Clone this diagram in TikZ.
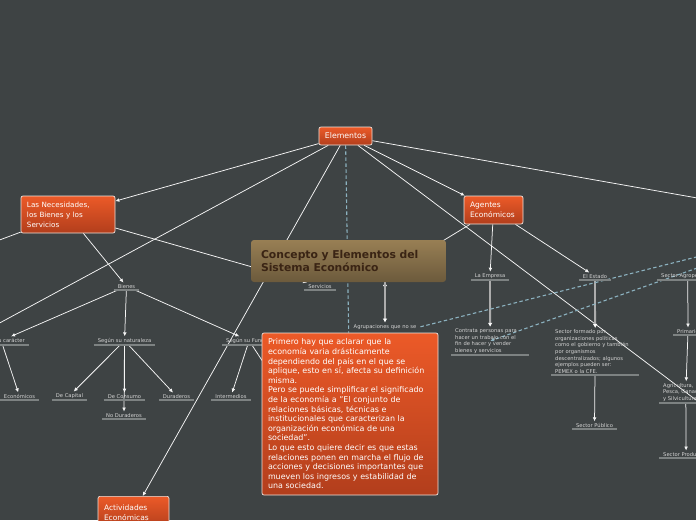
\documentclass[tikz,border=0pt]{standalone}
\usepackage{fontspec}
\setmainfont{DejaVu Sans}
\usetikzlibrary{arrows.meta,backgrounds}
\definecolor{bgcol}{RGB}{62,67,68}
\definecolor{orgtop}{RGB}{236,90,40}
\definecolor{orgbot}{RGB}{178,62,28}
\definecolor{orgline}{RGB}{238,226,220}
\definecolor{brntop}{RGB}{152,127,84}
\definecolor{brnbot}{RGB}{108,90,60}
\definecolor{brntext}{RGB}{58,36,20}
\definecolor{lbltext}{RGB}{212,212,212}
\definecolor{ulcol}{RGB}{125,130,130}
\definecolor{dashcol}{RGB}{140,178,192}
\definecolor{grayarr}{RGB}{172,172,172}
\begin{document}
\begin{tikzpicture}[x=1pt,y=-1pt,
  main node/.style={rectangle,rounded corners=2pt,draw=orgline,line width=.7pt,top color=orgtop,bottom color=orgbot,text=white,align=left,inner xsep=6pt,inner ysep=3pt},
  title node/.style={rectangle,rounded corners=3pt,top color=brntop,bottom color=brnbot,text=brntext,align=left,inner xsep=10pt,text width=175pt,minimum height=42pt,font=\fontsize{10.8}{13.5}\selectfont\bfseries},
  sub node/.style={text=lbltext,font=\fontsize{5.2}{6.6}\selectfont,align=left,inner xsep=4pt,inner ysep=1.5pt,anchor=south},
  uline/.style={ulcol,line width=1.1pt},
  arr/.style={white!92!gray,line width=.75pt,-{Latex[length=4pt,width=3.8pt]}},
  thick arr/.style={grayarr,line width=1.8pt,-{Latex[length=4pt,width=4.6pt,color=white]}},
  dash line/.style={dashcol,line width=1.1pt,dash pattern=on 3.5pt off 2.5pt}]
\useasboundingbox (0,0) rectangle (696,520);
\begin{scope}[on background layer]
\fill[bgcol] (0,0) rectangle (696,520);
\end{scope}
%leaves
\node[sub node] (bienes) at (126.5,290) {Bienes};
\node[sub node] (serv) at (320,290) {Servicios};
\node[sub node,anchor=south east] (carac) at (29,345) {Según su carácter};
\node[sub node] (natur) at (124.5,345) {Según su naturaleza};
\node[sub node,anchor=south west] (funcion) at (222,345) {Según su Función};
\node[sub node] (econ) at (19.5,400) {Económicos};
\node[sub node] (capital) at (69.5,400) {De Capital};
\node[sub node] (consumo) at (124.5,400) {De Consumo};
\node[sub node] (durad) at (176.5,400) {Duraderos};
\node[sub node] (nodurad) at (124,419) {No Duraderos};
\node[sub node] (intermed) at (231,400) {Intermedios};
\node[sub node] (empresa) at (490,280) {La Empresa};
\node[sub node] (estado) at (595,280) {El Estado};
\node[sub node,anchor=south west] (agrop) at (657,280) {Sector Agropecuario};
\node[sub node] (agrup) at (385,331) {Agrupaciones que no se};
\node[sub node,anchor=south west,text width=70pt] (contrata) at (451,355) {Contrata personas para\\hacer un trabajo con el\\fin de hacer y vender\\bienes y servicios};
\node[sub node,anchor=south west,text width=80pt] (formado) at (551,375) {Sector formado por\\organizaciones políticas\\como el gobierno y también\\por organismos\\descentralizados; algunos\\ejemplos pueden ser:\\PEMEX o la CFE.};
\node[sub node] (publico) at (594.5,429) {Sector Público};
\node[sub node,anchor=south west] (primario) at (673,335) {Primario};
\node[sub node,anchor=south west] (agric) at (659,403) {Agricultura,\\Pesca, Ganadería\\y Silvicultura};
\node[sub node,anchor=south west] (prod) at (659,458) {Sector Productivo};
\foreach \n in {bienes,serv,carac,natur,funcion,econ,capital,consumo,durad,nodurad,intermed,empresa,estado,agrop,contrata,formado,publico,primario,agric,prod}
  \draw[uline] (\n.south west) -- (\n.south east);
%topics
\node[main node,align=center,font=\fontsize{7.8}{9}\selectfont,minimum width=53pt,minimum height=18pt] (elem) at (345.5,136) {Elementos};
\node[main node,font=\fontsize{7.2}{10}\selectfont,text width=82pt,minimum height=37pt] (necs) at (68,214.5) {Las Necesidades,\\los Bienes y los\\Servicios};
\node[main node,font=\fontsize{7.5}{10}\selectfont,text width=47pt,minimum height=28pt] (agentes) at (493.5,210) {Agentes\\Económicos};
\node[main node,font=\fontsize{7.5}{10}\selectfont,text width=59pt,minimum height=32pt,anchor=north] (activ) at (133.5,496) {Actividades\\Económicas};
\node[title node] (title) at (348.5,261) {Concepto y Elementos del\\Sistema Económico};
\node[main node,font=\fontsize{7.95}{9.6}\selectfont,text width=164pt,minimum height=162pt] (tbox) at (350,414) {Primero hay que aclarar que la\\economía varia drásticamente\\dependiendo del país en el que se\\aplique, esto en sí, afecta su definición\\misma.\\Pero se puede simplificar el significado\\de la economía a "El conjunto de\\relaciones básicas, técnicas e\\institucionales que caracterizan la\\organización económica de una\\sociedad".\\Lo que esto quiere decir es que estas\\relaciones ponen en marcha el flujo de\\acciones y decisiones importantes que\\mueven los ingresos y estabilidad de\\una sociedad.};
%free ends
\coordinate (offl1) at (-30,339);
\coordinate (offl2) at (-30,251);
\coordinate (offr1) at (720,202);
\coordinate (offr2) at (720,418);
\coordinate (offr3) at (720,251);
\coordinate (offr4) at (720,260);
\coordinate (finales) at (284,394);
\coordinate (hid) at (395,270);
\begin{scope}[on background layer]
\draw[arr] (elem) edge (necs) edge (agentes) edge (offr1) edge (offr2) edge (offl1) edge (activ);
\draw[arr] (necs) edge (offl2) edge (serv) edge (bienes);
\draw[arr] (bienes) edge (carac) edge (natur) edge (funcion);
\draw[arr] (carac) edge (econ);
\draw[arr] (natur) edge (capital) edge (consumo) edge (durad) edge (nodurad);
\draw[arr] (funcion) edge (intermed) edge (finales);
\draw[arr] (agentes) edge (empresa) edge (estado) edge (hid);
\draw[arr] (formado) edge (publico);
\draw[arr] (agrop) edge (primario);
\draw[arr] (primario) edge (agric);
\draw[arr] (agric) edge (prod);
\draw[thick arr] (empresa) edge (contrata);
\draw[thick arr] (estado) edge (formado);
\draw[thick arr] (agrup.north |- title.south) edge (agrup.north);
\draw[dash line] (elem) edge (tbox);
\draw[dash line] (agrup.east) edge (offr3);
\draw[dash line,-{Latex[length=4pt,width=3.8pt]}] (offr4) edge (contrata.center);
\end{scope}
\end{tikzpicture}
\end{document}
